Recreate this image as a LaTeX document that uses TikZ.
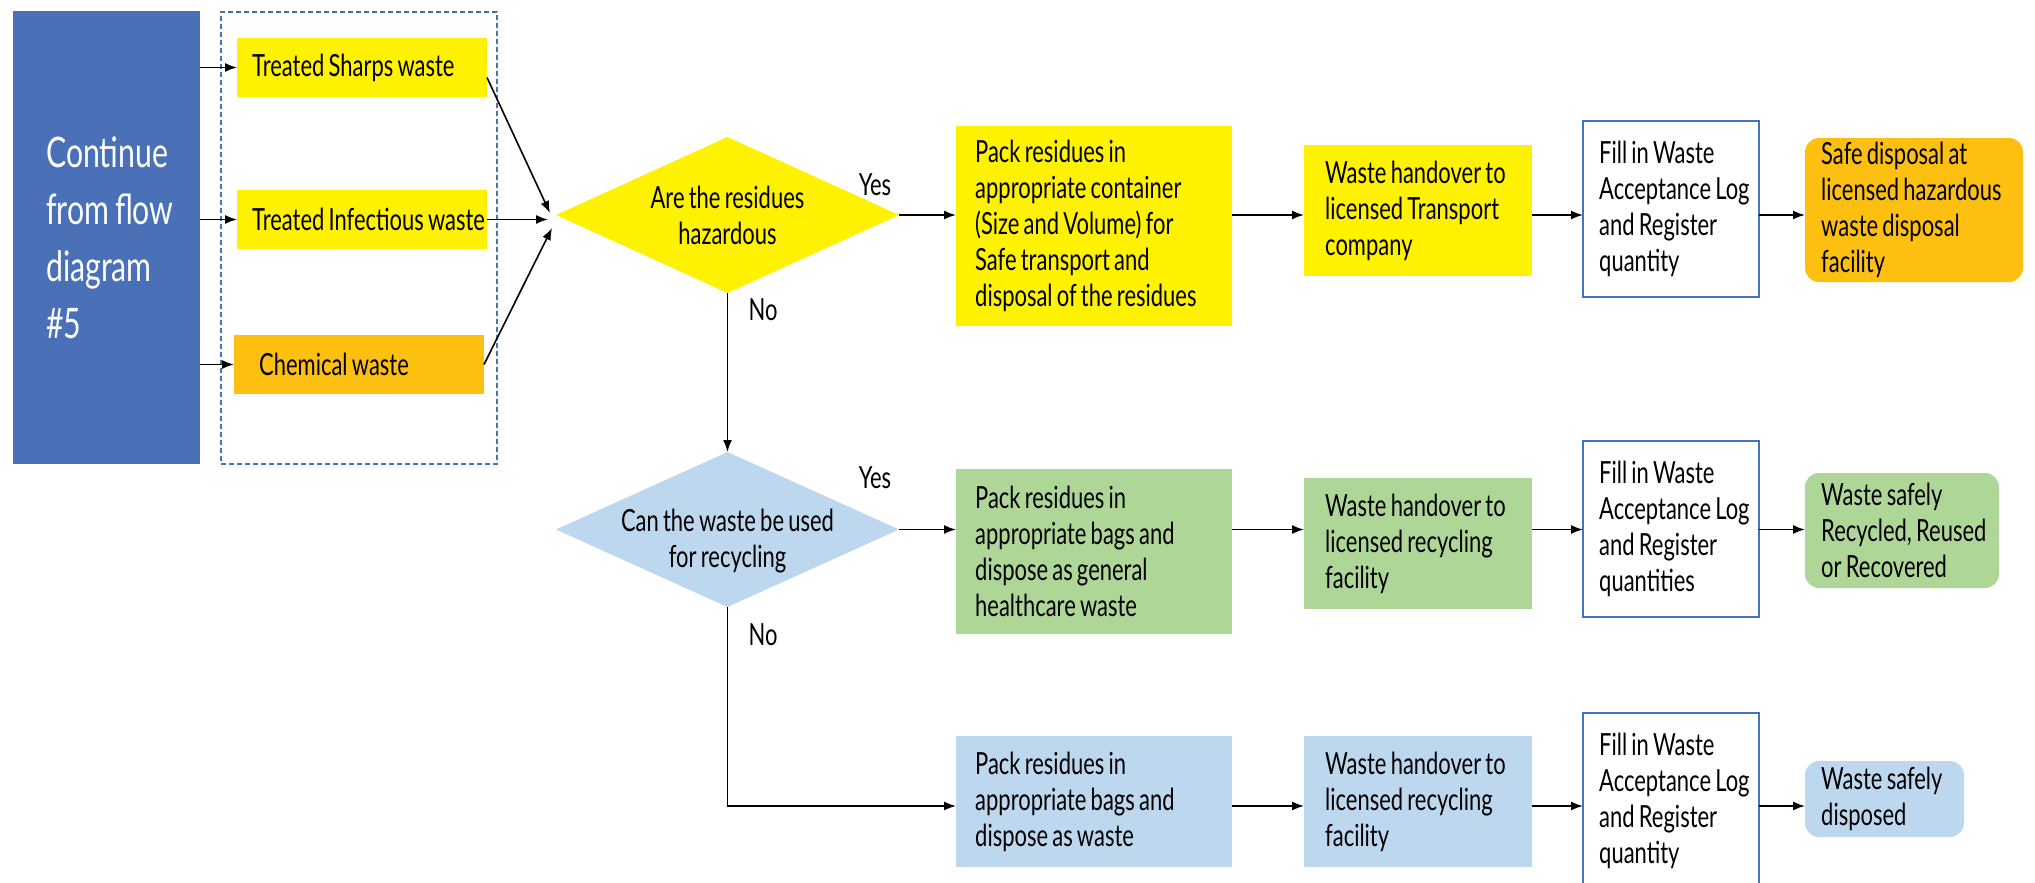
\documentclass[tikz,border=0pt]{standalone}
\usepackage{fontspec}
\setmainfont{Lato}[FakeStretch=0.72, WordSpace=0.75]
\usetikzlibrary{shapes.geometric,arrows.meta}
\definecolor{contblue}{HTML}{4A71B7}
\definecolor{hazyellow}{HTML}{FFF200}
\definecolor{hazorange}{HTML}{FDC010}
\definecolor{recgreen}{HTML}{ADD697}
\definecolor{lightblue}{HTML}{BDD7EE}
\definecolor{edgeblue}{HTML}{4472C4}
\begin{document}
\begin{tikzpicture}[x=1pt,y=-1pt,
  txt/.style={font=\fontsize{30.5}{36}\selectfont, text=black},
  ltext/.style={txt, anchor=west, align=left, inner sep=0pt},
  % box text: left inset, then the lines
  boxtext/.style 2 args={label={[ltext, xshift=#1]west:{#2}}},
  base/.style={rectangle, inner sep=0pt, outer sep=0pt},
  fillbox/.style={base, fill=#1, draw=none},
  logbox/.style={base, fill=white, draw=edgeblue, line width=2pt},
  endbox/.style={base, fill=#1, rounded corners=14pt},
  dia/.style={diamond, fill=#1, inner sep=0pt, outer sep=0pt},
  dtext/.style={txt, align=center, inner sep=0pt},
  lbl/.style={txt, inner sep=0pt},
  arr/.style={-{Latex[length=12pt,width=9pt]}, line width=1.6pt, black}
]
\useasboundingbox (0,0) rectangle (2035,883);

% starting block and the grouped inputs
\node[fill=contblue, minimum width=187pt, minimum height=453pt, inner sep=0pt, outer sep=0pt,
  label={[anchor=west, xshift=33pt, text=white, align=left, inner sep=0pt,
          font=\fontsize{42}{57}\selectfont]west:Continue\\from flow\\diagram\\\#5}]
  (cont) at (106.5,237.5) {};
\node[draw=edgeblue, line width=1.5pt, dash pattern=on 5pt off 3pt,
  minimum width=276pt, minimum height=452pt, inner sep=0pt] (grp) at (359,238) {};

\node[fillbox=hazyellow, minimum width=250pt, minimum height=59pt,
  boxtext={15pt}{Treated Sharps waste}] (s1) at (362,67.5) {};
\node[fillbox=hazyellow, minimum width=250pt, minimum height=59pt,
  boxtext={15pt}{Treated Infectious waste}] (s2) at (362,219.5) {};
\node[fillbox=hazorange, minimum width=250pt, minimum height=59pt,
  boxtext={25pt}{Chemical waste}] (s3) at (359,364.5) {};

% decisions
\node[dia=hazyellow, minimum width=343pt, minimum height=156pt,
  label={[dtext]center:Are the residues\\hazardous}] (d1) at (727.5,215) {};
\node[dia=lightblue, minimum width=343pt, minimum height=155pt,
  label={[dtext, yshift=-12pt]center:Can the waste be used\\for recycling}] (d2) at (727.5,529.5) {};

\node[lbl] (y1) at (875,185) {Yes};
\node[lbl] (n1) at (763,310) {No};
\node[lbl] (y2) at (875,478) {Yes};
\node[lbl] (n2) at (763,635) {No};

% hazardous route
\node[fillbox=hazyellow, minimum width=276pt, minimum height=200pt,
  boxtext={19pt}{Pack residues in\\appropriate container\\(Size and Volume) for\\Safe transport and\\disposal of the residues}]
  (p1) at (1094,226) {};
\node[fillbox=hazyellow, minimum width=228pt, minimum height=131pt,
  boxtext={21pt}{Waste handover to\\licensed Transport\\company}] (h1) at (1418,210.5) {};
\node[logbox, minimum width=176pt, minimum height=176pt,
  boxtext={16pt}{Fill in Waste\\Acceptance Log\\and Register\\quantity}] (f1) at (1671,209) {};
\node[endbox=hazorange, minimum width=218pt, minimum height=144pt,
  boxtext={16pt}{Safe disposal at\\licensed hazardous\\waste disposal\\facility}] (sd) at (1914,210) {};

% recycling route
\node[fillbox=recgreen, minimum width=276pt, minimum height=165pt,
  boxtext={19pt}{Pack residues in\\appropriate bags and\\dispose as general\\healthcare waste}]
  (p2) at (1094,551.5) {};
\node[fillbox=recgreen, minimum width=228pt, minimum height=131pt,
  boxtext={21pt}{Waste handover to\\licensed recycling\\facility}] (h2) at (1418,543.5) {};
\node[logbox, minimum width=176pt, minimum height=176pt,
  boxtext={16pt}{Fill in Waste\\Acceptance Log\\and Register\\quantities}] (f2) at (1671,529) {};
\node[endbox=recgreen, minimum width=194pt, minimum height=115pt,
  boxtext={16pt}{Waste safely\\Recycled, Reused\\or Recovered}] (rc) at (1902,530.5) {};

% general waste route
\node[fillbox=lightblue, minimum width=276pt, minimum height=131pt,
  boxtext={19pt}{Pack residues in\\appropriate bags and\\dispose as waste}] (p3) at (1094,801.5) {};
\node[fillbox=lightblue, minimum width=228pt, minimum height=131pt,
  boxtext={21pt}{Waste handover to\\licensed recycling\\facility}] (h3) at (1418,801.5) {};
\node[logbox, minimum width=176pt, minimum height=176pt,
  boxtext={16pt}{Fill in Waste\\Acceptance Log\\and Register\\quantity}] (f3) at (1671,801) {};
\node[endbox=lightblue, minimum width=159pt, minimum height=76pt,
  boxtext={16pt}{Waste safely\\disposed}] (dp) at (1884.5,799) {};

\coordinate (r3) at (0,806);
\coordinate (din) at ([xshift=-8pt]d1.west);

% connectors
\draw[arr] (cont.east |- s1.west) -- (s1.west);
\draw[arr] (cont.east |- s2.west) -- (s2.west);
\draw[arr] (cont.east |- s3.west) -- (s3.west);
\draw[arr] ([yshift=-10pt]s1.east) -- ([xshift=-6pt,yshift=2pt]d1.west);
\draw[arr] (s2.east) -- (din |- s2.east);
\draw[arr] (s3.east) -- ([xshift=-4pt,yshift=-13pt]d1.west);

\draw[arr] (d1.east) -- (p1.west |- d1.east);
\draw[arr] (p1.east |- d1.east) -- (h1.west |- d1.east);
\draw[arr] (h1.east |- d1.east) -- (f1.west |- d1.east);
\draw[arr] (f1.east |- d1.east) -- (sd.west |- d1.east);

\draw[arr] (d1.south) -- (d2.north);

\draw[arr] (d2.east) -- (p2.west |- d2.east);
\draw[arr] (p2.east |- d2.east) -- (h2.west |- d2.east);
\draw[arr] (h2.east |- d2.east) -- (f2.west |- d2.east);
\draw[arr] (f2.east |- d2.east) -- (rc.west |- d2.east);

\draw[arr] (d2.south) |- (p3.west |- r3);
\draw[arr] (p3.east |- r3) -- (h3.west |- r3);
\draw[arr] (h3.east |- r3) -- (f3.west |- r3);
\draw[arr] (f3.east |- r3) -- (dp.west |- r3);
\end{tikzpicture}
\end{document}
